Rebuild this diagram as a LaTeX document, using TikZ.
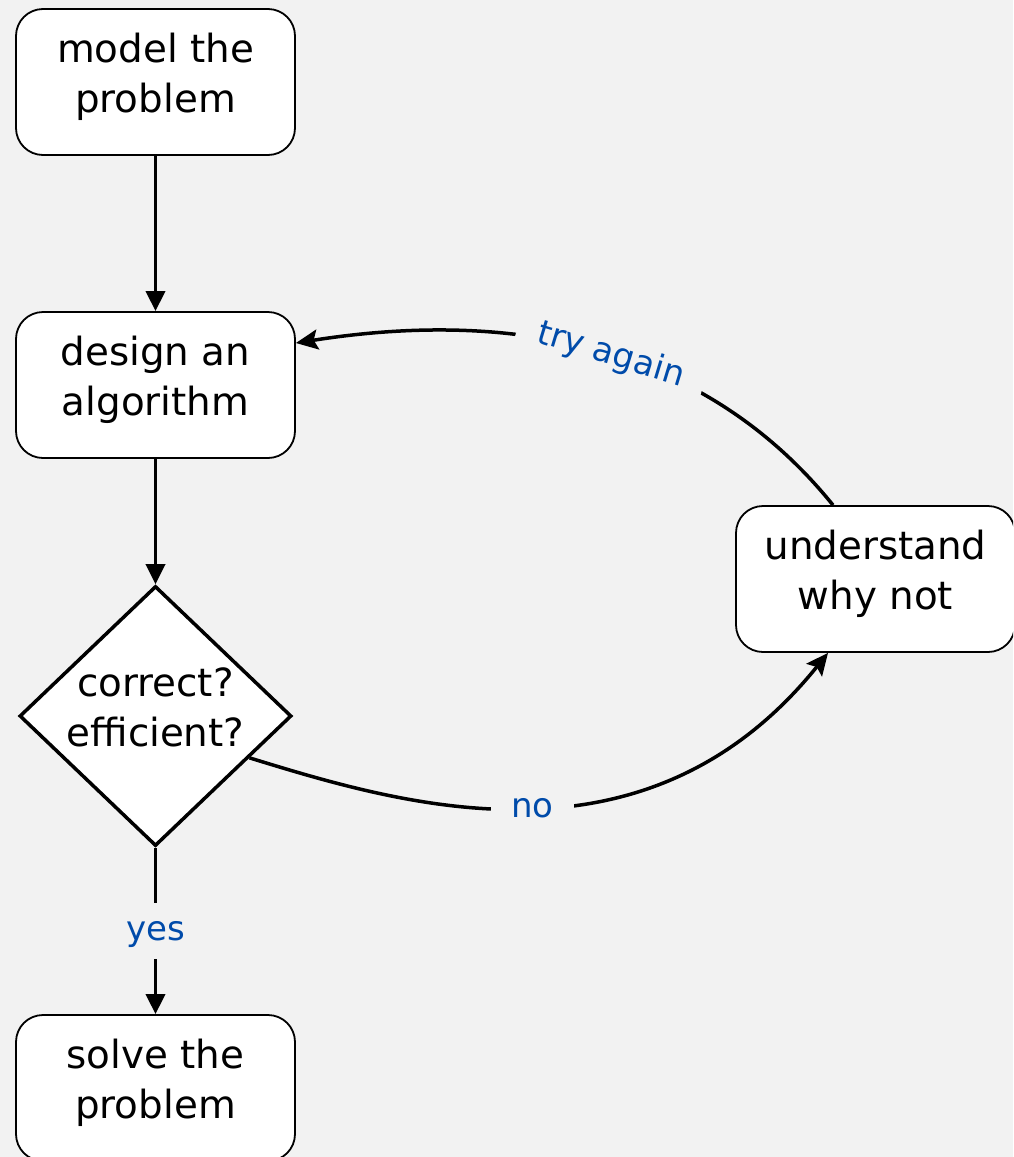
\documentclass[tikz,border=0pt]{standalone}
\usepackage{fontspec}
\setmainfont{DejaVu Sans}
\usetikzlibrary{shapes.geometric,arrows.meta,calc}
\definecolor{bggray}{HTML}{F2F2F2}
\definecolor{lblblue}{RGB}{0,75,170}
\begin{document}
\begin{tikzpicture}[x=1pt,y=-1pt,
  box/.style={draw=black, line width=1.8pt, fill=white, rounded corners=27pt,
    minimum width=279pt, minimum height=146pt, inner sep=0pt, align=center,
    font=\fontsize{38.8}{50}\selectfont, text depth=18pt},
  decision/.style={diamond, draw=black, line width=3.5pt, fill=white,
    minimum width=272pt, minimum height=260pt, inner sep=-4pt, aspect=1.05,
    align=center, font=\fontsize{38.8}{50}\selectfont, text depth=18pt},
  flow/.style={line width=3.5pt, -{Triangle[width=19pt,length=20pt]}},
  curved/.style={line width=3.5pt, -{Stealth[width=20pt,length=22pt,inset=4pt]}},
  lbl/.style={fill=bggray, text=lblblue, font=\fontsize{34}{40}\selectfont}
]
\clip (0,0) rectangle (1013,1157);
\fill[bggray] (0,0) rectangle (1013,1157);

\node[box] (m) at (155.5,82) {model the\\problem};
\node[box] (d) at (155.5,385) {design an\\algorithm};
\node[decision] (c) at (155.5,716) {correct?\\efficient?};
\node[box] (s) at (155.5,1088) {solve the\\problem};
\node[box] (u) at (875.5,579) {understand\\why not};

\draw[flow] (m) -- (d);
\draw[flow] (d) -- (c);
\draw[flow] (c) -- node[lbl, pos=0.5, text depth=0pt, inner xsep=4pt, inner ysep=18.7pt] (yes) {yes} (s);

\draw[curved] (c.-24.5) .. controls (400,804) and (645,880) ..
  node[lbl, pos=0.5, xshift=6pt, text depth=0pt, inner xsep=20pt, inner ysep=6pt] (no) {no}
  ($(u.south)+(-47.5,0)$);

\draw[curved] ($(u.north)+(-42.5,0)$) .. controls (706,348) and (518,308) ..
  node[lbl, sloped, pos=0.48, inner xsep=21pt, inner ysep=10pt] (try) {try again}
  ($(d.east)+(0,-42)$);
\end{tikzpicture}
\end{document}
